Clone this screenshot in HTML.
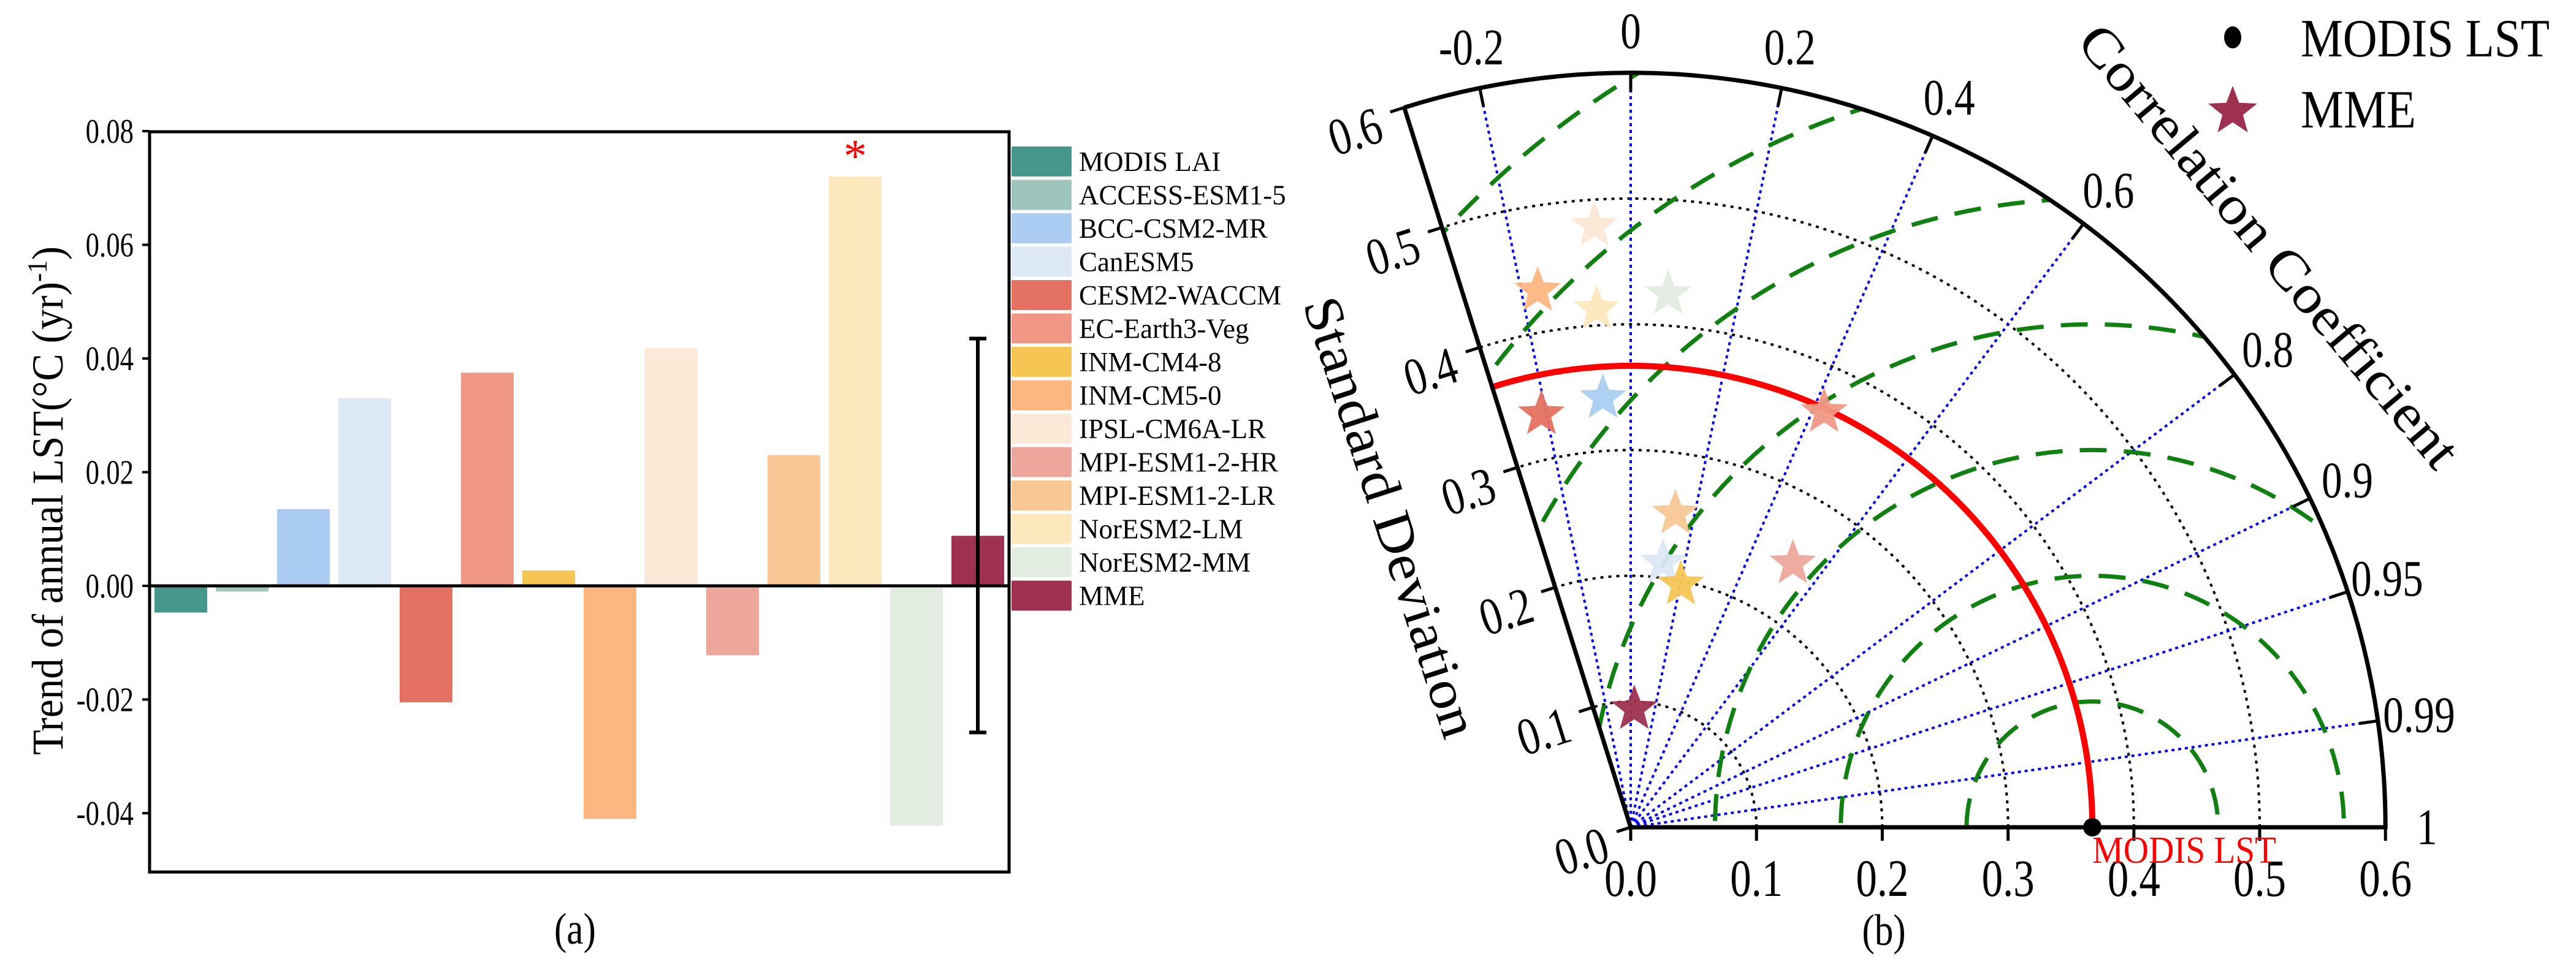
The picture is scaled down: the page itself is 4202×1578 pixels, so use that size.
<!DOCTYPE html>
<html><head><meta charset="utf-8"><style>
html,body{margin:0;padding:0;background:#fff;overflow:hidden;width:4202px;height:1578px;}
svg{display:block;font-family:"Liberation Serif",serif;}
</style></head><body>
<svg id="fig" width="4202" height="1578" viewBox="0 0 4202 1578" xmlns="http://www.w3.org/2000/svg">
<rect width="4202" height="1578" fill="#fff"/>
<g id="panelA"></g>
<g id="panelB"></g>
<text transform="translate(938,1540) scale(0.85,1)" font-size="72" text-anchor="middle">(a)</text>
<text transform="translate(3073,1542) scale(0.85,1)" font-size="72" text-anchor="middle">(b)</text>
</svg>
<script>
const categories=["MODIS LAI","ACCESS-ESM1-5","BCC-CSM2-MR","CanESM5","CESM2-WACCM","EC-Earth3-Veg","INM-CM4-8","INM-CM5-0","IPSL-CM6A-LR","MPI-ESM1-2-HR","MPI-ESM1-2-LR","NorESM2-LM","NorESM2-MM","MME"];
const trendValues=[-0.0047,-0.001,0.0135,0.033,-0.0205,0.0375,0.0027,-0.041,0.0418,-0.0122,0.023,0.072,-0.0422,0.0088];
const barColors=["#45968b","#9dc5bb","#aacdf1","#dce8f4","#e47161","#f09885","#f5c654","#fdb67f","#fbe8d6","#eda69a","#f9c794","#fde8bd","#e3ece0","#9e3150"];
const yTicks=[-0.04,-0.02,0,0.02,0.04,0.06,0.08];
const yTickLabels=["-0.04","-0.02","0.00","0.02","0.04","0.06","0.08"];
const mmeErrorRange=[-0.0258,0.0435];
const significantIndex=[11];

const taylorModels=["IPSL-CM6A-LR","INM-CM5-0","NorESM2-LM","NorESM2-MM","CESM2-WACCM","BCC-CSM2-MR","EC-Earth3-Veg","MPI-ESM1-2-LR","CanESM5","INM-CM4-8","MPI-ESM1-2-HR","MME"];
const taylorSD=[0.481,0.435,0.415,0.427,0.338,0.344,0.366,0.254,0.214,0.199,0.248,0.096];
const taylorCorr=[-0.06,-0.17,-0.065,0.07,-0.21,-0.064,0.42,0.14,0.12,0.20,0.52,0.03];
const refSD=[0.367];
const sdTicks=[0,0.1,0.2,0.3,0.4,0.5,0.6];
const sdTickLabels=["0.0","0.1","0.2","0.3","0.4","0.5","0.6"];
const corrTicks=[-0.2,0,0.2,0.4,0.6,0.8,0.9,0.95,0.99,1];
const corrTickLabels=["-0.2","0","0.2","0.4","0.6","0.8","0.9","0.95","0.99","1"];
const rmsRadii=[0.1,0.2,0.3,0.4,0.5,0.6,0.7];
const sdArcs=[0.1,0.2,0.3,0.4,0.5];
const minCorr=[-0.3];

const NS="http://www.w3.org/2000/svg";
function mk(parent,tag,attrs,txt){const e=document.createElementNS(NS,tag);for(const k in attrs)e.setAttribute(k,attrs[k]);if(txt!==undefined)e.textContent=txt;parent.appendChild(e);return e;}

/* ---------- Panel A ---------- */
const A=document.getElementById("panelA");
const yScale=v=>956-v*9275;
const xBand=i=>252+i*100;
const bw=86;
const colorOf=n=>barColors[categories.indexOf(n)];
let e;
trendValues.forEach((v,i)=>{
  const y0=yScale(0),y1=yScale(v);
  e=mk(A,"rect",{x:xBand(i),y:Math.min(y0,y1),width:bw,height:Math.abs(y1-y0),fill:barColors[i]});
  
  
});
e=mk(A,"rect",{x:244,y:215,width:1402,height:1208,fill:"none",stroke:"#000","stroke-width":5});


e=mk(A,"line",{x1:244,x2:1646,y1:yScale(0),y2:yScale(0),stroke:"#000","stroke-width":5});


yTicks.forEach((t,i)=>{
  e=mk(A,"line",{x1:232,x2:244,y1:yScale(t),y2:yScale(t),stroke:"#000","stroke-width":4});
  
  
  e=mk(A,"text",{transform:`translate(218,${yScale(t)+19}) scale(0.8,1)`,"font-size":56,"text-anchor":"end"},yTickLabels[i]);
  
  
});
{
  const cx=xBand(13)+bw/2;
  e=mk(A,"path",{d:`M${cx},${yScale(mmeErrorRange[1])}V${yScale(mmeErrorRange[0])}M${cx-14},${yScale(mmeErrorRange[1])}h28M${cx-14},${yScale(mmeErrorRange[0])}h28`,stroke:"#000","stroke-width":6,fill:"none"});
  
  
}
significantIndex.forEach(i=>{
  e=mk(A,"text",{x:xBand(i)+bw/2,y:yScale(trendValues[i])-8,"font-size":76,fill:"#ff0000","text-anchor":"middle"},"*");
  
  
});
e=mk(A,"text",{x:0,y:0,"font-size":72,"text-anchor":"middle",transform:"translate(102,817) rotate(-90)",textLength:830,lengthAdjust:"spacingAndGlyphs"});


e.innerHTML='Trend of annual LST(°C (yr)<tspan dy="-26" font-size="46">-1</tspan><tspan dy="26">)</tspan>';
categories.forEach((c,i)=>{
  const y=239+i*54.5;
  e=mk(A,"rect",{x:1650,y:y,width:98,height:49,fill:barColors[i],rx:2});
  
  
  e=mk(A,"text",{x:1760,y:y+40,"font-size":45},c);
  
  
});

/* ---------- Panel B ---------- */
const B=document.getElementById("panelB");
const U=2052,OX=2660,OY=1350;
const px=x=>OX+x*U, py=y=>OY-y*U;
const th=Math.acos(minCorr[0]);
const P=(r,a)=>[px(r*Math.cos(a)),py(r*Math.sin(a))];
const Rmax=sdTicks[sdTicks.length-1];
const defs=mk(B,"defs",{});
const cp=mk(defs,"clipPath",{id:"sector"});
{const a=P(Rmax,0),b=P(Rmax,th);
 mk(cp,"path",{d:`M${OX},${OY}L${a[0]},${a[1]}A${Rmax*U},${Rmax*U} 0 0 0 ${b[0]},${b[1]}Z`});}
sdArcs.forEach(r=>{
  const a=P(r,0),b=P(r,th);
  e=mk(B,"path",{d:`M${a[0]},${a[1]}A${r*U},${r*U} 0 0 0 ${b[0]},${b[1]}`,fill:"none",stroke:"#000","stroke-width":4,"stroke-dasharray":"5 8"});
  
  
});
corrTicks.slice(0,-1).forEach(c=>{
  const b=P(Rmax,Math.acos(c));
  e=mk(B,"line",{x1:OX,y1:OY,x2:b[0],y2:b[1],stroke:"#0000ee","stroke-width":4,"stroke-dasharray":"5 6"});
  
  
});
const gg=mk(B,"g",{"clip-path":"url(#sector)"});
rmsRadii.forEach(r=>{
  e=mk(gg,"circle",{cx:px(refSD[0]),cy:py(0),r:r*U,fill:"none",stroke:"#108010","stroke-width":7,"stroke-dasharray":"44 28"});
  
  
});
{const a=P(refSD[0],0),b=P(refSD[0],th);
 e=mk(B,"path",{d:`M${a[0]},${a[1]}A${refSD[0]*U},${refSD[0]*U} 0 0 0 ${b[0]},${b[1]}`,fill:"none",stroke:"#ff0000","stroke-width":10});
 
 }
{const a=P(Rmax,0),b=P(Rmax,th);
 e=mk(B,"path",{d:`M${b[0]},${b[1]}L${OX},${OY}L${a[0]},${a[1]}A${Rmax*U},${Rmax*U} 0 0 0 ${b[0]},${b[1]}`,fill:"none",stroke:"#000","stroke-width":7});
 
 }
sdTicks.forEach((t,i)=>{
  e=mk(B,"line",{x1:px(t),x2:px(t),y1:OY,y2:OY+22,stroke:"#000","stroke-width":5});
  
  
  e=mk(B,"text",{transform:`translate(${px(t)},${OY+112}) scale(0.8,1)`,"font-size":86,"text-anchor":"middle"},sdTickLabels[i]);
  
  
});
{const nx=-Math.sin(th),ny=Math.cos(th);
sdTicks.forEach((t,i)=>{
  const p=P(t,th);
  const q=[p[0]+nx*24,p[1]-ny*24];
  e=mk(B,"line",{x1:p[0],y1:p[1],x2:q[0],y2:q[1],stroke:"#000","stroke-width":5});
  
  
  const lx=p[0]+nx*84,ly=p[1]-ny*84+14;
  e=mk(B,"text",{x:0,y:0,"font-size":86,"text-anchor":"middle","dominant-baseline":"central",transform:`translate(${lx},${ly}) rotate(${-(th*180/Math.PI-90)}) scale(0.8,1)`},sdTickLabels[i]);
  
  
});}
corrTicks.forEach((c,i)=>{
  const a=Math.acos(c);
  const p=P(Rmax,a),q=P(Rmax-0.015,a);
  e=mk(B,"line",{x1:p[0],y1:p[1],x2:q[0],y2:q[1],stroke:"#000","stroke-width":5});
  
  
  const l=P(0.633,a);
  e=mk(B,"text",{x:0,y:0,"font-size":84,"text-anchor":"middle","dominant-baseline":"central",transform:`translate(${l[0]},${l[1]}) scale(0.8,1)`},corrTickLabels[i]);
  
  
});
function starPts(cx,cy,R){const r=R*0.42;let s=[];for(let k=0;k<10;k++){const a=-Math.PI/2+k*Math.PI/5;const rr=k%2?r:R;s.push((cx+rr*Math.cos(a)).toFixed(1)+","+(cy+rr*Math.sin(a)).toFixed(1));}return s.join(" ");}
taylorModels.forEach((m,i)=>{
  const a=Math.acos(taylorCorr[i]);
  const p=P(taylorSD[i],a);
  e=mk(B,"polygon",{points:starPts(p[0],p[1]+4,40),fill:colorOf(m),"fill-opacity":0.95});
  
  
});
e=mk(B,"circle",{cx:px(refSD[0]),cy:py(0),r:15,fill:"#000"});


e=mk(B,"text",{x:3413,y:1408,"font-size":62,fill:"#ff0000",textLength:300,lengthAdjust:"spacingAndGlyphs"},"MODIS LST");


e=mk(B,"text",{x:0,y:0,"font-size":88,"text-anchor":"middle","dominant-baseline":"central",transform:"translate(2268,844) rotate(72)",textLength:750,lengthAdjust:"spacingAndGlyphs"},"Standard Deviation");


e=mk(B,"text",{x:0,y:0,"font-size":88,"text-anchor":"middle","dominant-baseline":"central",transform:"translate(3701,402) rotate(50)",textLength:915,lengthAdjust:"spacingAndGlyphs"},"Correlation Coefficient");


e=mk(B,"ellipse",{cx:3642,cy:61,rx:14,ry:18,fill:"#000"});


e=mk(B,"text",{x:3753,y:92,"font-size":88,textLength:406,lengthAdjust:"spacingAndGlyphs"},"MODIS LST");


e=mk(B,"polygon",{points:starPts(3642,182,42),fill:"#9e3150"});


e=mk(B,"text",{x:3753,y:208,"font-size":88,textLength:188,lengthAdjust:"spacingAndGlyphs"},"MME");


</script>
</body></html>
